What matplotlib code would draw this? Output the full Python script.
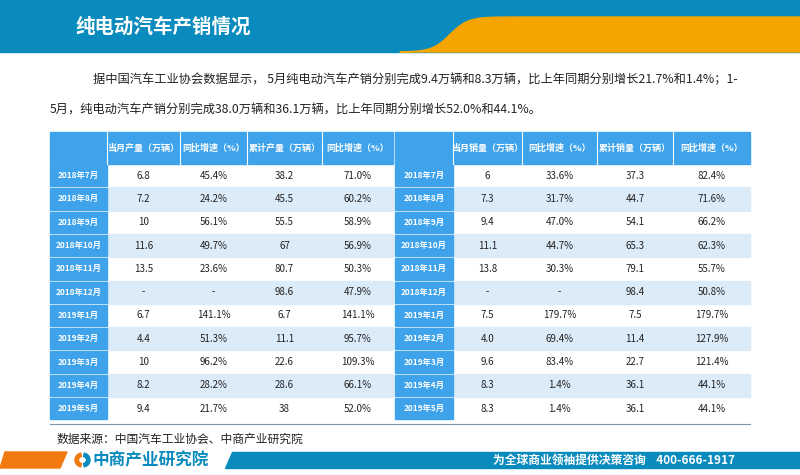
import matplotlib
matplotlib.use("Agg")
import matplotlib.pyplot as plt
from matplotlib.patches import Rectangle, Polygon, Wedge
import numpy as np

plt.rcParams["font.family"] = "Noto Sans CJK SC"

months = ["2018年7月","2018年8月","2018年9月","2018年10月","2018年11月","2018年12月",
          "2019年1月","2019年2月","2019年3月","2019年4月","2019年5月"]
prod_month = ["6.8","7.2","10","11.6","13.5","-","6.7","4.4","10","8.2","9.4"]
prod_yoy = ["45.4%","24.2%","56.1%","49.7%","23.6%","-","141.1%","51.3%","96.2%","28.2%","21.7%"]
prod_cum = ["38.2","45.5","55.5","67","80.7","98.6","6.7","11.1","22.6","28.6","38"]
prod_cum_yoy = ["71.0%","60.2%","58.9%","56.9%","50.3%","47.9%","141.1%","95.7%","109.3%","66.1%","52.0%"]
sale_month = ["6","7.3","9.4","11.1","13.8","-","7.5","4.0","9.6","8.3","8.3"]
sale_yoy = ["33.6%","31.7%","47.0%","44.7%","30.3%","-","179.7%","69.4%","83.4%","1.4%","1.4%"]
sale_cum = ["37.3","44.7","54.1","65.3","79.1","98.4","7.5","11.4","22.7","36.1","36.1"]
sale_cum_yoy = ["82.4%","71.6%","66.2%","62.3%","55.7%","50.8%","179.7%","127.9%","121.4%","44.1%","44.1%"]
prod_headers = ["当月产量（万辆）","同比增速（%）","累计产量（万辆）","同比增速（%）"]
sale_headers = ["当月销量（万辆）","同比增速（%）","累计销量（万辆）","同比增速（%）"]

fig = plt.figure(figsize=(8, 4.75), dpi=100)
ax = fig.add_axes([0, 0, 1, 1])
ax.set_xlim(0, 800); ax.set_ylim(475, 0); ax.axis("off")

BLUE = "#0a8bbd"; HDR = "#3fa3ec"; LIGHT = "#dcebf8"
ax.add_patch(Rectangle((0, 0), 800, 52, color=BLUE, zorder=1))
xs = np.linspace(400, 800, 200)
yt = 52 - 35 / (1 + np.exp(-(xs - 450) / 9))
ax.add_patch(Polygon(np.column_stack([np.r_[xs, 800, 400], np.r_[yt, 52, 52]]), color="#f6a500", zorder=2))
ax.text(75, 27, "纯电动汽车产销情况", color="white", fontsize=14, fontweight="bold", va="center", zorder=3)

ax.text(93, 80, "据中国汽车工业协会数据显示， 5月纯电动汽车产销分别完成9.4万辆和8.3万辆，比上年同期分别增长21.7%和1.4%；1-",
        fontsize=8.8, va="center", color="#222", family="Noto Serif CJK SC" if False else None)
ax.text(50, 110, "5月，纯电动汽车产销分别完成38.0万辆和36.1万辆，比上年同期分别增长52.0%和44.1%。",
        fontsize=8.8, va="center", color="#222")

top, hh, rh = 132, 32, 23.3
def table(x0, colx, headers, cols):
    ax.add_patch(Rectangle((x0, top), colx[-1] - x0, hh, color=HDR))
    edges = [x0] + colx
    for i, h in enumerate(headers):
        ax.text((edges[i+1] + edges[i+2]) / 2, top + hh / 2, h, color="white", fontsize=6.5,
                ha="center", va="center", fontweight="bold")
        ax.plot([edges[i+1]] * 2, [top, top + hh], color="white", lw=0.8)
    for r, m in enumerate(months):
        y = top + hh + r * rh
        if r % 2 == 1:
            ax.add_patch(Rectangle((colx[0], y), colx[-1] - colx[0], rh, color=LIGHT))
        ax.add_patch(Rectangle((x0, y + 1), colx[0] - x0, rh - 2, color=HDR))
        ax.text((x0 + colx[0]) / 2, y + rh / 2, m, color="white", fontsize=6, ha="center", va="center", fontweight="bold")
        for c, col in enumerate(cols):
            ax.text((edges[c+1] + edges[c+2]) / 2, y + rh / 2, col[r], fontsize=7, ha="center", va="center", color="#222")
table(50, [107, 180, 247, 322, 393], prod_headers, [prod_month, prod_yoy, prod_cum, prod_cum_yoy])
table(395, [453, 522, 597, 673, 750], sale_headers, [sale_month, sale_yoy, sale_cum, sale_cum_yoy])
ybot = top + hh + 11 * rh + 4
ax.plot([50, 750], [ybot, ybot], color="#7a96ad", lw=0.8)
ax.text(57, 439, "数据来源：中国汽车工业协会、中商产业研究院", fontsize=8.5, va="center", color="#222")

# footer
ax.add_patch(Polygon([(5, 452), (67, 452), (60, 468), (0, 468)], color="#f07a10"))
ax.add_patch(Polygon([(232, 452), (800, 452), (800, 468), (225, 468)], color=BLUE))
ax.add_patch(Wedge((82, 460), 7, 100, 260, width=3.5, color="#f07a10"))
ax.add_patch(Wedge((83, 460), 7, -80, 80, width=3.5, color=BLUE))
ax.text(93, 460, "中商产业研究院", fontsize=12, color=BLUE, fontweight="bold", va="center")
ax.text(735, 460, "为全球商业领袖提供决策咨询    400-666-1917", fontsize=8.5, color="white",
        fontweight="bold", va="center", ha="right")
fig.savefig("out.png", dpi=100)
